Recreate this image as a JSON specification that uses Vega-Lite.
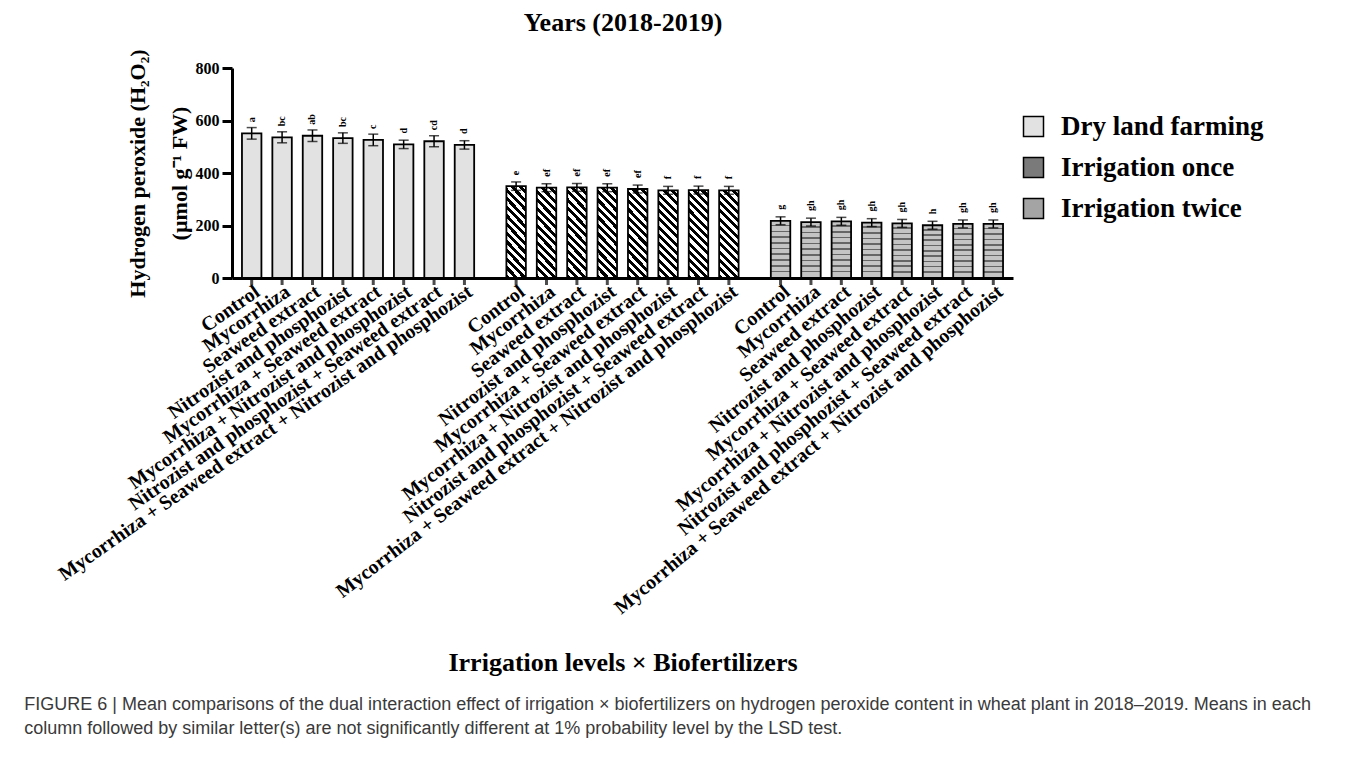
{
  "$schema": "https://vega.github.io/schema/vega-lite/v6.json",
  "width": 781,
  "height": 210,
  "autosize": {"type": "none"},
  "padding": {"left": 232, "top": 68, "right": 347, "bottom": 500},
  "background": "white",
  "title": {
    "text": ["FIGURE 6 | Mean comparisons of the dual interaction effect of irrigation × biofertilizers on hydrogen peroxide content in wheat plant in 2018–2019. Means in each", "column followed by similar letter(s) are not significantly different at 1% probability level by the LSD test."],
    "orient": "bottom", "anchor": "start", "frame": "bounds",
    "font": "Liberation Sans", "fontSize": 18, "fontWeight": "normal", "color": "#3a3a3a",
    "lineHeight": 24, "offset": 21, "dx": -31
  },
  "config": {"view": {"stroke": null}, "font": "Liberation Serif", "style": {"guide-title": {"lineBreak": "\n"}}},
  "resolve": {"axis": {"x": "independent", "y": "independent"}},
  "data": {"values": [
    {"irr": "Dry land farming", "treat": "Control", "mean": 551, "err": 22, "let": "a"},
    {"irr": "Dry land farming", "treat": "Mycorrhiza", "mean": 536, "err": 21, "let": "bc"},
    {"irr": "Dry land farming", "treat": "Seaweed extract", "mean": 542, "err": 22, "let": "ab"},
    {"irr": "Dry land farming", "treat": "Nitrozist and phosphozist", "mean": 533, "err": 20, "let": "bc"},
    {"irr": "Dry land farming", "treat": "Mycorrhiza + Seaweed extract", "mean": 526, "err": 22, "let": "c"},
    {"irr": "Dry land farming", "treat": "Mycorrhiza + Nitrozist and phosphozist", "mean": 509, "err": 16, "let": "d"},
    {"irr": "Dry land farming", "treat": "Nitrozist and phosphozist + Seaweed extract", "mean": 521, "err": 21, "let": "cd"},
    {"irr": "Dry land farming", "treat": "Mycorrhiza + Seaweed extract + Nitrozist and phosphozist", "mean": 507, "err": 16, "let": "d"},
    {"irr": "Irrigation once", "treat": "Control", "mean": 350, "err": 16, "let": "e"},
    {"irr": "Irrigation once", "treat": "Mycorrhiza", "mean": 344, "err": 15, "let": "ef"},
    {"irr": "Irrigation once", "treat": "Seaweed extract", "mean": 345, "err": 15, "let": "ef"},
    {"irr": "Irrigation once", "treat": "Nitrozist and phosphozist", "mean": 344, "err": 15, "let": "ef"},
    {"irr": "Irrigation once", "treat": "Mycorrhiza + Seaweed extract", "mean": 339, "err": 15, "let": "ef"},
    {"irr": "Irrigation once", "treat": "Mycorrhiza + Nitrozist and phosphozist", "mean": 334, "err": 15, "let": "f"},
    {"irr": "Irrigation once", "treat": "Nitrozist and phosphozist + Seaweed extract", "mean": 335, "err": 15, "let": "f"},
    {"irr": "Irrigation once", "treat": "Mycorrhiza + Seaweed extract + Nitrozist and phosphozist", "mean": 334, "err": 15, "let": "f"},
    {"irr": "Irrigation twice", "treat": "Control", "mean": 218, "err": 15, "let": "g"},
    {"irr": "Irrigation twice", "treat": "Mycorrhiza", "mean": 213, "err": 15, "let": "gh"},
    {"irr": "Irrigation twice", "treat": "Seaweed extract", "mean": 216, "err": 15, "let": "gh"},
    {"irr": "Irrigation twice", "treat": "Nitrozist and phosphozist", "mean": 211, "err": 15, "let": "gh"},
    {"irr": "Irrigation twice", "treat": "Mycorrhiza + Seaweed extract", "mean": 208, "err": 15, "let": "gh"},
    {"irr": "Irrigation twice", "treat": "Mycorrhiza + Nitrozist and phosphozist", "mean": 201, "err": 15, "let": "h"},
    {"irr": "Irrigation twice", "treat": "Nitrozist and phosphozist + Seaweed extract", "mean": 206, "err": 15, "let": "gh"},
    {"irr": "Irrigation twice", "treat": "Mycorrhiza + Seaweed extract + Nitrozist and phosphozist", "mean": 206, "err": 15, "let": "gh"}
  ]},
  "layer": [
    {
      "mark": {"type": "tick", "orient": "vertical", "size": 14, "thickness": 3, "color": "black"},
      "encoding": {
        "x": {"field": "irr", "type": "nominal", "scale": {"paddingInner": 0.0805, "paddingOuter": 0.017},
              "axis": {"orient": "top", "title": "Years (2018-2019)", "domain": false, "ticks": false, "labels": false,
                       "titleFont": "Liberation Serif", "titleFontSize": 26, "titleFontWeight": "bold", "titleColor": "black", "titlePadding": 33}},
        "xOffset": {"field": "treat", "type": "nominal", "scale": {"domain": ["Control", "Mycorrhiza", "Seaweed extract", "Nitrozist and phosphozist", "Mycorrhiza + Seaweed extract", "Mycorrhiza + Nitrozist and phosphozist", "Nitrozist and phosphozist + Seaweed extract", "Mycorrhiza + Seaweed extract + Nitrozist and phosphozist"], "paddingInner": 0.36, "paddingOuter": 0.18}},
        "y": {"datum": 0, "type": "quantitative", "axis": null}
      }
    },
    {
      "mark": {"type": "bar", "stroke": "black", "strokeWidth": 1.8},
      "encoding": {
        "x": {"field": "irr", "type": "nominal", "scale": {"paddingInner": 0.0805, "paddingOuter": 0.017},
              "axis": {"orient": "bottom", "title": "Irrigation levels × Biofertilizers", "labels": false, "ticks": false,
                       "domain": true, "domainColor": "black", "domainWidth": 3,
                       "titleFont": "Liberation Serif", "titleFontSize": 26, "titleFontWeight": "bold", "titleColor": "black", "titlePadding": 371}},
        "xOffset": {"field": "treat", "type": "nominal", "scale": {"domain": ["Control", "Mycorrhiza", "Seaweed extract", "Nitrozist and phosphozist", "Mycorrhiza + Seaweed extract", "Mycorrhiza + Nitrozist and phosphozist", "Nitrozist and phosphozist + Seaweed extract", "Mycorrhiza + Seaweed extract + Nitrozist and phosphozist"], "paddingInner": 0.36, "paddingOuter": 0.18}},
        "y": {"field": "mean", "type": "quantitative", "scale": {"domain": [0, 800], "nice": false},
              "axis": {"title": "Hydrogen peroxide (H₂O₂)\n(µmol g⁻¹ FW)", "values": [0, 200, 400, 600, 800], "grid": false,
                       "domainColor": "black", "domainWidth": 3, "tickColor": "black", "tickWidth": 3, "tickSize": 10,
                       "labelFont": "Liberation Serif", "labelFontWeight": "bold", "labelFontSize": 16, "labelColor": "black", "labelPadding": 3,
                       "titleFont": "Liberation Serif", "titleFontSize": 22, "titleFontWeight": "bold", "titleColor": "black", "titleLineHeight": 42, "titlePadding": 4}},
        "fill": {
          "field": "irr", "type": "nominal",
          "scale": {"domain": ["Dry land farming", "Irrigation once", "Irrigation twice"], "range": ["#e2e2e2", "#7a7a7a", "#a4a4a4"]},
          "condition": [
            {"test": "datum.irr === 'Irrigation once'", "value": {"gradient": "linear", "x1": 0, "y1": 1, "x2": 0.2588, "y2": -0.1647, "stops": [
              {"offset": 0, "color": "#000"}, {"offset": 0.0385, "color": "#000"}, {"offset": 0.0385, "color": "#fff"}, {"offset": 0.0769, "color": "#fff"},
              {"offset": 0.0769, "color": "#000"}, {"offset": 0.1154, "color": "#000"}, {"offset": 0.1154, "color": "#fff"}, {"offset": 0.1538, "color": "#fff"},
              {"offset": 0.1538, "color": "#000"}, {"offset": 0.1923, "color": "#000"}, {"offset": 0.1923, "color": "#fff"}, {"offset": 0.2308, "color": "#fff"},
              {"offset": 0.2308, "color": "#000"}, {"offset": 0.2692, "color": "#000"}, {"offset": 0.2692, "color": "#fff"}, {"offset": 0.3077, "color": "#fff"},
              {"offset": 0.3077, "color": "#000"}, {"offset": 0.3462, "color": "#000"}, {"offset": 0.3462, "color": "#fff"}, {"offset": 0.3846, "color": "#fff"},
              {"offset": 0.3846, "color": "#000"}, {"offset": 0.4231, "color": "#000"}, {"offset": 0.4231, "color": "#fff"}, {"offset": 0.4615, "color": "#fff"},
              {"offset": 0.4615, "color": "#000"}, {"offset": 0.5, "color": "#000"}, {"offset": 0.5, "color": "#fff"}, {"offset": 0.5385, "color": "#fff"},
              {"offset": 0.5385, "color": "#000"}, {"offset": 0.5769, "color": "#000"}, {"offset": 0.5769, "color": "#fff"}, {"offset": 0.6154, "color": "#fff"},
              {"offset": 0.6154, "color": "#000"}, {"offset": 0.6538, "color": "#000"}, {"offset": 0.6538, "color": "#fff"}, {"offset": 0.6923, "color": "#fff"},
              {"offset": 0.6923, "color": "#000"}, {"offset": 0.7308, "color": "#000"}, {"offset": 0.7308, "color": "#fff"}, {"offset": 0.7692, "color": "#fff"},
              {"offset": 0.7692, "color": "#000"}, {"offset": 0.8077, "color": "#000"}, {"offset": 0.8077, "color": "#fff"}, {"offset": 0.8462, "color": "#fff"},
              {"offset": 0.8462, "color": "#000"}, {"offset": 0.8846, "color": "#000"}, {"offset": 0.8846, "color": "#fff"}, {"offset": 0.9231, "color": "#fff"},
              {"offset": 0.9231, "color": "#000"}, {"offset": 0.9615, "color": "#000"}, {"offset": 0.9615, "color": "#fff"}, {"offset": 1, "color": "#fff"}]}},
            {"test": "datum.irr === 'Irrigation twice'", "value": {"gradient": "linear", "x1": 0, "y1": 0, "x2": 0, "y2": 1, "stops": [
              {"offset": 0, "color": "#c4c4c4"}, {"offset": 0.07, "color": "#c4c4c4"}, {"offset": 0.07, "color": "#666"}, {"offset": 0.1, "color": "#666"},
              {"offset": 0.1, "color": "#c4c4c4"}, {"offset": 0.17, "color": "#c4c4c4"}, {"offset": 0.17, "color": "#666"}, {"offset": 0.2, "color": "#666"},
              {"offset": 0.2, "color": "#c4c4c4"}, {"offset": 0.27, "color": "#c4c4c4"}, {"offset": 0.27, "color": "#666"}, {"offset": 0.3, "color": "#666"},
              {"offset": 0.3, "color": "#c4c4c4"}, {"offset": 0.37, "color": "#c4c4c4"}, {"offset": 0.37, "color": "#666"}, {"offset": 0.4, "color": "#666"},
              {"offset": 0.4, "color": "#c4c4c4"}, {"offset": 0.47, "color": "#c4c4c4"}, {"offset": 0.47, "color": "#666"}, {"offset": 0.5, "color": "#666"},
              {"offset": 0.5, "color": "#c4c4c4"}, {"offset": 0.57, "color": "#c4c4c4"}, {"offset": 0.57, "color": "#666"}, {"offset": 0.6, "color": "#666"},
              {"offset": 0.6, "color": "#c4c4c4"}, {"offset": 0.67, "color": "#c4c4c4"}, {"offset": 0.67, "color": "#666"}, {"offset": 0.7, "color": "#666"},
              {"offset": 0.7, "color": "#c4c4c4"}, {"offset": 0.77, "color": "#c4c4c4"}, {"offset": 0.77, "color": "#666"}, {"offset": 0.8, "color": "#666"},
              {"offset": 0.8, "color": "#c4c4c4"}, {"offset": 0.87, "color": "#c4c4c4"}, {"offset": 0.87, "color": "#666"}, {"offset": 0.9, "color": "#666"},
              {"offset": 0.9, "color": "#c4c4c4"}, {"offset": 1, "color": "#c4c4c4"}]}}
          ],
          "legend": {
            "orient": "none", "legendX": 788, "legendY": 45, "title": null, "padding": 0,
            "symbolType": "square", "symbolSize": 400, "symbolStrokeColor": "black", "symbolStrokeWidth": 1.5, "symbolOpacity": 1,
            "labelFont": "Liberation Serif", "labelFontWeight": "bold", "labelFontSize": 27, "labelColor": "black", "labelOffset": 14,
            "rowPadding": 13, "labelLimit": 400
          }
        }
      }
    },
    {
      "mark": {"type": "errorbar", "color": "black", "ticks": {"size": 10, "thickness": 1.5, "color": "black"}, "rule": {"strokeWidth": 1.5}},
      "encoding": {
        "x": {"field": "irr", "type": "nominal", "axis": null},
        "xOffset": {"field": "treat", "type": "nominal", "scale": {"domain": ["Control", "Mycorrhiza", "Seaweed extract", "Nitrozist and phosphozist", "Mycorrhiza + Seaweed extract", "Mycorrhiza + Nitrozist and phosphozist", "Nitrozist and phosphozist + Seaweed extract", "Mycorrhiza + Seaweed extract + Nitrozist and phosphozist"], "paddingInner": 0.36, "paddingOuter": 0.18}},
        "y": {"field": "mean", "type": "quantitative", "axis": null},
        "yError": {"field": "err"}
      }
    },
    {
      "mark": {"type": "text", "angle": 270, "align": "left", "baseline": "middle", "dx": 11, "font": "Liberation Serif", "fontWeight": "bold", "fontSize": 10, "color": "black"},
      "encoding": {
        "x": {"field": "irr", "type": "nominal", "axis": null},
        "xOffset": {"field": "treat", "type": "nominal", "scale": {"domain": ["Control", "Mycorrhiza", "Seaweed extract", "Nitrozist and phosphozist", "Mycorrhiza + Seaweed extract", "Mycorrhiza + Nitrozist and phosphozist", "Nitrozist and phosphozist + Seaweed extract", "Mycorrhiza + Seaweed extract + Nitrozist and phosphozist"], "paddingInner": 0.36, "paddingOuter": 0.18}},
        "y": {"field": "mean", "type": "quantitative", "axis": null},
        "text": {"field": "let"}
      }
    },
    {
      "mark": {"type": "text", "align": "right", "baseline": "middle", "dx": -2, "dy": 13, "font": "Liberation Serif", "fontWeight": "bold", "fontSize": 20, "color": "black"},
      "encoding": {
        "x": {"field": "irr", "type": "nominal", "axis": null},
        "xOffset": {"field": "treat", "type": "nominal", "scale": {"domain": ["Control", "Mycorrhiza", "Seaweed extract", "Nitrozist and phosphozist", "Mycorrhiza + Seaweed extract", "Mycorrhiza + Nitrozist and phosphozist", "Nitrozist and phosphozist + Seaweed extract", "Mycorrhiza + Seaweed extract + Nitrozist and phosphozist"], "paddingInner": 0.36, "paddingOuter": 0.18}},
        "y": {"datum": 0, "type": "quantitative", "axis": null},
        "angle": {"field": "irr", "type": "nominal", "legend": null, "scale": {"domain": ["Dry land farming", "Irrigation once", "Irrigation twice"], "range": [325, 320, 316]}},
        "text": {"field": "treat"}
      }
    }
  ]
}
